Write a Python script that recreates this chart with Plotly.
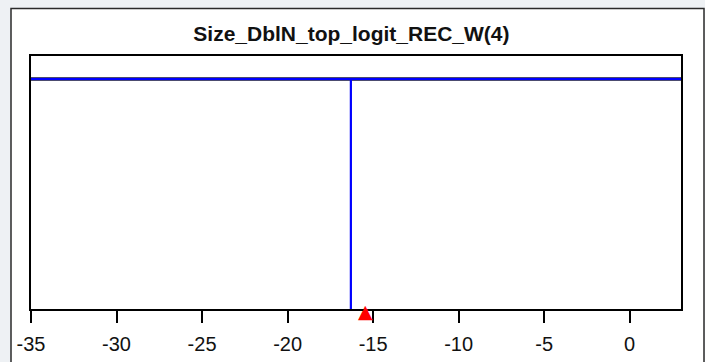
import plotly.graph_objects as go

# Data
curve_x = [-35, -16.3, -16.3, -16.3, 3]
curve_y = [1, 1, 0, 1, 1]
ref_x = [-35, 3]
ref_y = [1, 1]
marker_x = [-15.45]
marker_y = [0]
tick_vals = [-35, -30, -25, -20, -15, -10, -5, 0]
tick_text = ["-35", "-30", "-25", "-20", "-15", "-10", "-5", "0"]
title_text = "Size_DblN_top_logit_REC_W(4)"

W, H = 705, 362
L, R, T, B = 31, 24, 56, 53
pw, ph = W - L - R, H - T - B

def px_x(p):
    return (p - L) / pw

def px_y(p):
    return (H - B - p) / ph

fig = go.Figure()
fig.add_trace(go.Scatter(x=ref_x, y=ref_y, mode="lines",
                         line=dict(color="#101040", width=3.6),
                         hoverinfo="skip", showlegend=False))
fig.add_trace(go.Scatter(x=curve_x, y=curve_y, mode="lines",
                         line=dict(color="#0000ff", width=2.2),
                         showlegend=False))
for mx, my in zip(marker_x, marker_y):
    fig.add_annotation(x=mx, y=my, xref="x", yref="y", text="▲", showarrow=False,
                       xanchor="center", yanchor="middle", yshift=-2,
                       font=dict(family="DejaVu Sans", size=19, color="#ff0000"))

fig.add_shape(type="rect", xref="paper", yref="paper",
              x0=px_x(11), x1=px_x(704), y0=px_y(380), y1=px_y(8.5),
              fillcolor="white", line=dict(color="#2a2a2a", width=1.5),
              layer="below")

fig.update_layout(
    width=W, height=H,
    margin=dict(l=L, r=R, t=T, b=B),
    paper_bgcolor="#eef1f4",
    plot_bgcolor="white",
    font=dict(family="Liberation Sans, Arial, sans-serif", color="black"),
    title=dict(text="<b>" + title_text + "</b>", x=px_x(355), xanchor="center",
               y=1 - 34 / H, yanchor="middle",
               font=dict(size=21, color="#111111")),
    xaxis=dict(range=[-35, 3], tickvals=tick_vals, ticktext=tick_text,
               ticks="outside", ticklen=12, tickwidth=2, tickcolor="black",
               showline=True, linewidth=2, linecolor="black", mirror=True,
               showgrid=False, zeroline=False, ticklabelstandoff=4,
               automargin=False,
               tickfont=dict(size=20, color="#111111")),
    yaxis=dict(range=[0, 1.1], showticklabels=False, ticks="",
               showline=True, linewidth=2, linecolor="black", mirror=True,
               showgrid=False, zeroline=False, automargin=False),
)

fig.write_html("out.html")
